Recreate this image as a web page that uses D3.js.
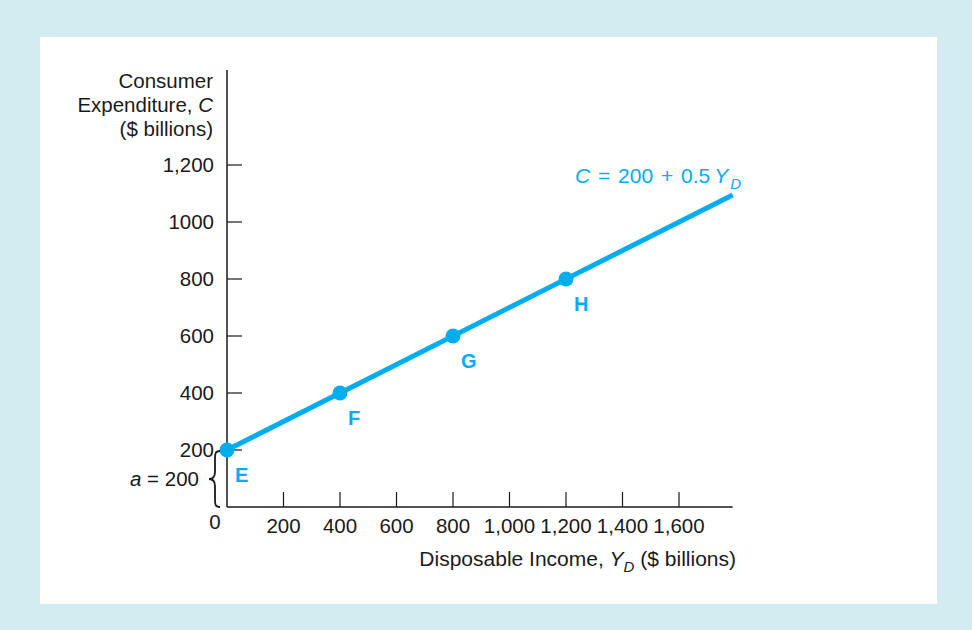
<!DOCTYPE html>
<html lang="en">
<head>
	<meta charset="UTF-8"/>
	<title>Consumption function</title>
	<style>
	body { margin: 0; background-color: #d2ecf1; }
	svg { display: block; font-family: "Liberation Sans", Arial, sans-serif; }
	.tick-label { font-size: 20.5px; fill: #1a1a1a; }
	.blue { fill: #00aeef; }
	</style>
	<script src="https://d3js.org/d3.v7.min.js"></script>
</head>
<body>
<div id="chart"></div>
<script>

	// data
	var incomes = [0, 400, 800, 1200];
	var pointLabels = ["E", "F", "G", "H"];
	var intercept = 200;
	var slope = 0.5;
	var xTicks = [200, 400, 600, 800, 1000, 1200, 1400, 1600];
	var xTickLabels = ["200", "400", "600", "800", "1,000", "1,200", "1,400", "1,600"];
	var yTicks = [200, 400, 600, 800, 1000, 1200];
	var yTickLabels = ["200", "400", "600", "800", "1000", "1,200"];
	var xMax = 1790;

	var w = 972;
	var h = 630;

	var x0 = 227, y0 = 507;

	var xScale = d3.scaleLinear()
					.domain([0, 1200])
					.range([x0, 566]);

	var yScale = d3.scaleLinear()
					.domain([0, 1200])
					.range([y0, 165]);

	var svg = d3.select("#chart")
			.append("svg")
			.attr("width", w)
			.attr("height", h);

	// white panel
	svg.append("rect")
		.attr("x", 40)
		.attr("y", 37)
		.attr("width", 897)
		.attr("height", 567)
		.attr("fill", "white");

	// axes lines
	svg.append("line")
		.attr("x1", x0).attr("y1", 70)
		.attr("x2", x0).attr("y2", y0)
		.attr("stroke", "#1a1a1a").attr("stroke-width", 1.5);
	svg.append("line")
		.attr("x1", x0).attr("y1", y0)
		.attr("x2", xScale(xMax)).attr("y2", y0)
		.attr("stroke", "#1a1a1a").attr("stroke-width", 1.5);

	// x ticks (drawn inward, upward)
	svg.selectAll(".xtick")
		.data(xTicks)
		.enter()
		.append("line")
		.attr("class", "xtick")
		.attr("x1", function(d) { return xScale(d); })
		.attr("x2", function(d) { return xScale(d); })
		.attr("y1", y0)
		.attr("y2", y0 - 15)
		.attr("stroke", "#1a1a1a").attr("stroke-width", 1.2);

	svg.selectAll(".xlab")
		.data(xTicks)
		.enter()
		.append("text")
		.attr("class", "tick-label xlab")
		.attr("x", function(d) { return xScale(d); })
		.attr("y", 533)
		.attr("text-anchor", "middle")
		.text(function(d, i) { return xTickLabels[i]; });

	// y ticks (drawn inward, to the right)
	svg.selectAll(".ytick")
		.data(yTicks)
		.enter()
		.append("line")
		.attr("class", "ytick")
		.attr("x1", x0)
		.attr("x2", x0 + 15)
		.attr("y1", function(d) { return yScale(d); })
		.attr("y2", function(d) { return yScale(d); })
		.attr("stroke", "#1a1a1a").attr("stroke-width", 1.2);

	svg.selectAll(".ylab")
		.data(yTicks)
		.enter()
		.append("text")
		.attr("class", "tick-label ylab")
		.attr("x", 214)
		.attr("y", function(d) { return yScale(d) + 7; })
		.attr("text-anchor", "end")
		.text(function(d, i) { return yTickLabels[i]; });

	svg.append("text")
		.attr("class", "tick-label")
		.attr("x", 215)
		.attr("y", 529)
		.attr("text-anchor", "middle")
		.text("0");

	// y axis title
	var yTitle = svg.append("text")
		.attr("class", "tick-label")
		.attr("text-anchor", "end");
	yTitle.append("tspan").attr("x", 213).attr("y", 88).text("Consumer");
	var l2 = yTitle.append("tspan").attr("x", 213).attr("y", 112);
	l2.append("tspan").text("Expenditure, ");
	l2.append("tspan").attr("font-style", "italic").text("C");
	yTitle.append("tspan").attr("x", 213).attr("y", 136).text("($ billions)");

	// x axis title
	var xTitle = svg.append("text")
		.attr("class", "tick-label")
		.attr("x", 736)
		.attr("y", 566)
		.style("font-size", "21px")
		.attr("text-anchor", "end");
	xTitle.append("tspan").text("Disposable Income,  ");
	xTitle.append("tspan").attr("font-style", "italic").text("Y");
	xTitle.append("tspan").attr("font-style", "italic").style("font-size", "15px").attr("dy", 6).text("D");
	xTitle.append("tspan").attr("dy", -6).text(" ($ billions)");

	// consumption line
	var line = d3.line()
		.x(function(d) { return xScale(d); })
		.y(function(d) { return yScale(intercept + slope * d); });

	svg.append("path")
		.datum([0, xMax])
		.attr("d", line)
		.attr("fill", "none")
		.attr("stroke", "#00aeef")
		.attr("stroke-width", 5);

	svg.selectAll(".pt")
		.data(incomes)
		.enter()
		.append("circle")
		.attr("class", "pt")
		.attr("cx", function(d) { return xScale(d); })
		.attr("cy", function(d) { return yScale(intercept + slope * d); })
		.attr("r", 7.5)
		.attr("fill", "#00aeef");

	svg.selectAll(".ptlab")
		.data(incomes)
		.enter()
		.append("text")
		.attr("class", "blue ptlab")
		.attr("x", function(d) { return xScale(d) + 8; })
		.attr("y", function(d) { return yScale(intercept + slope * d) + 32; })
		.attr("font-size", "20px")
		.attr("font-weight", "bold")
		.text(function(d, i) { return pointLabels[i]; });

	// equation label
	var eq = svg.append("text")
		.attr("class", "blue")
		.attr("x", 575)
		.attr("y", 183)
		.attr("font-size", "21px")
		.attr("word-spacing", "2px");
	eq.append("tspan").attr("font-style", "italic").text("C");
	eq.append("tspan").text(" = 200 + 0.5");
	eq.append("tspan").attr("font-style", "italic").attr("dx", 4).text("Y");
	eq.append("tspan").attr("font-style", "italic").attr("font-size", "15px").attr("dx", 2).attr("dy", 6).text("D");

	// brace for intercept
	var bTop = yScale(intercept) + 1, bBot = y0, bMid = (bTop + bBot) / 2, bx = 215;
	svg.append("path")
		.attr("d", "M" + (bx + 5) + "," + bTop +
			" C" + bx + "," + bTop + " " + bx + "," + (bTop + 3) + " " + bx + "," + (bTop + 8) +
			" L" + bx + "," + (bMid - 7) +
			" C" + bx + "," + (bMid - 2) + " " + (bx - 2) + "," + bMid + " " + (bx - 6) + "," + bMid +
			" C" + (bx - 2) + "," + bMid + " " + bx + "," + (bMid + 2) + " " + bx + "," + (bMid + 7) +
			" L" + bx + "," + (bBot - 8) +
			" C" + bx + "," + (bBot - 3) + " " + bx + "," + bBot + " " + (bx + 5) + "," + bBot)
		.attr("fill", "none")
		.attr("stroke", "#1a1a1a")
		.attr("stroke-width", 1.8);

	var aLab = svg.append("text")
		.attr("class", "tick-label")
		.attr("x", 199)
		.attr("y", bMid + 7)
		.attr("text-anchor", "end");
	aLab.append("tspan").attr("font-style", "italic").text("a");
	aLab.append("tspan").text(" = " + intercept);

</script>
</body>
</html>
